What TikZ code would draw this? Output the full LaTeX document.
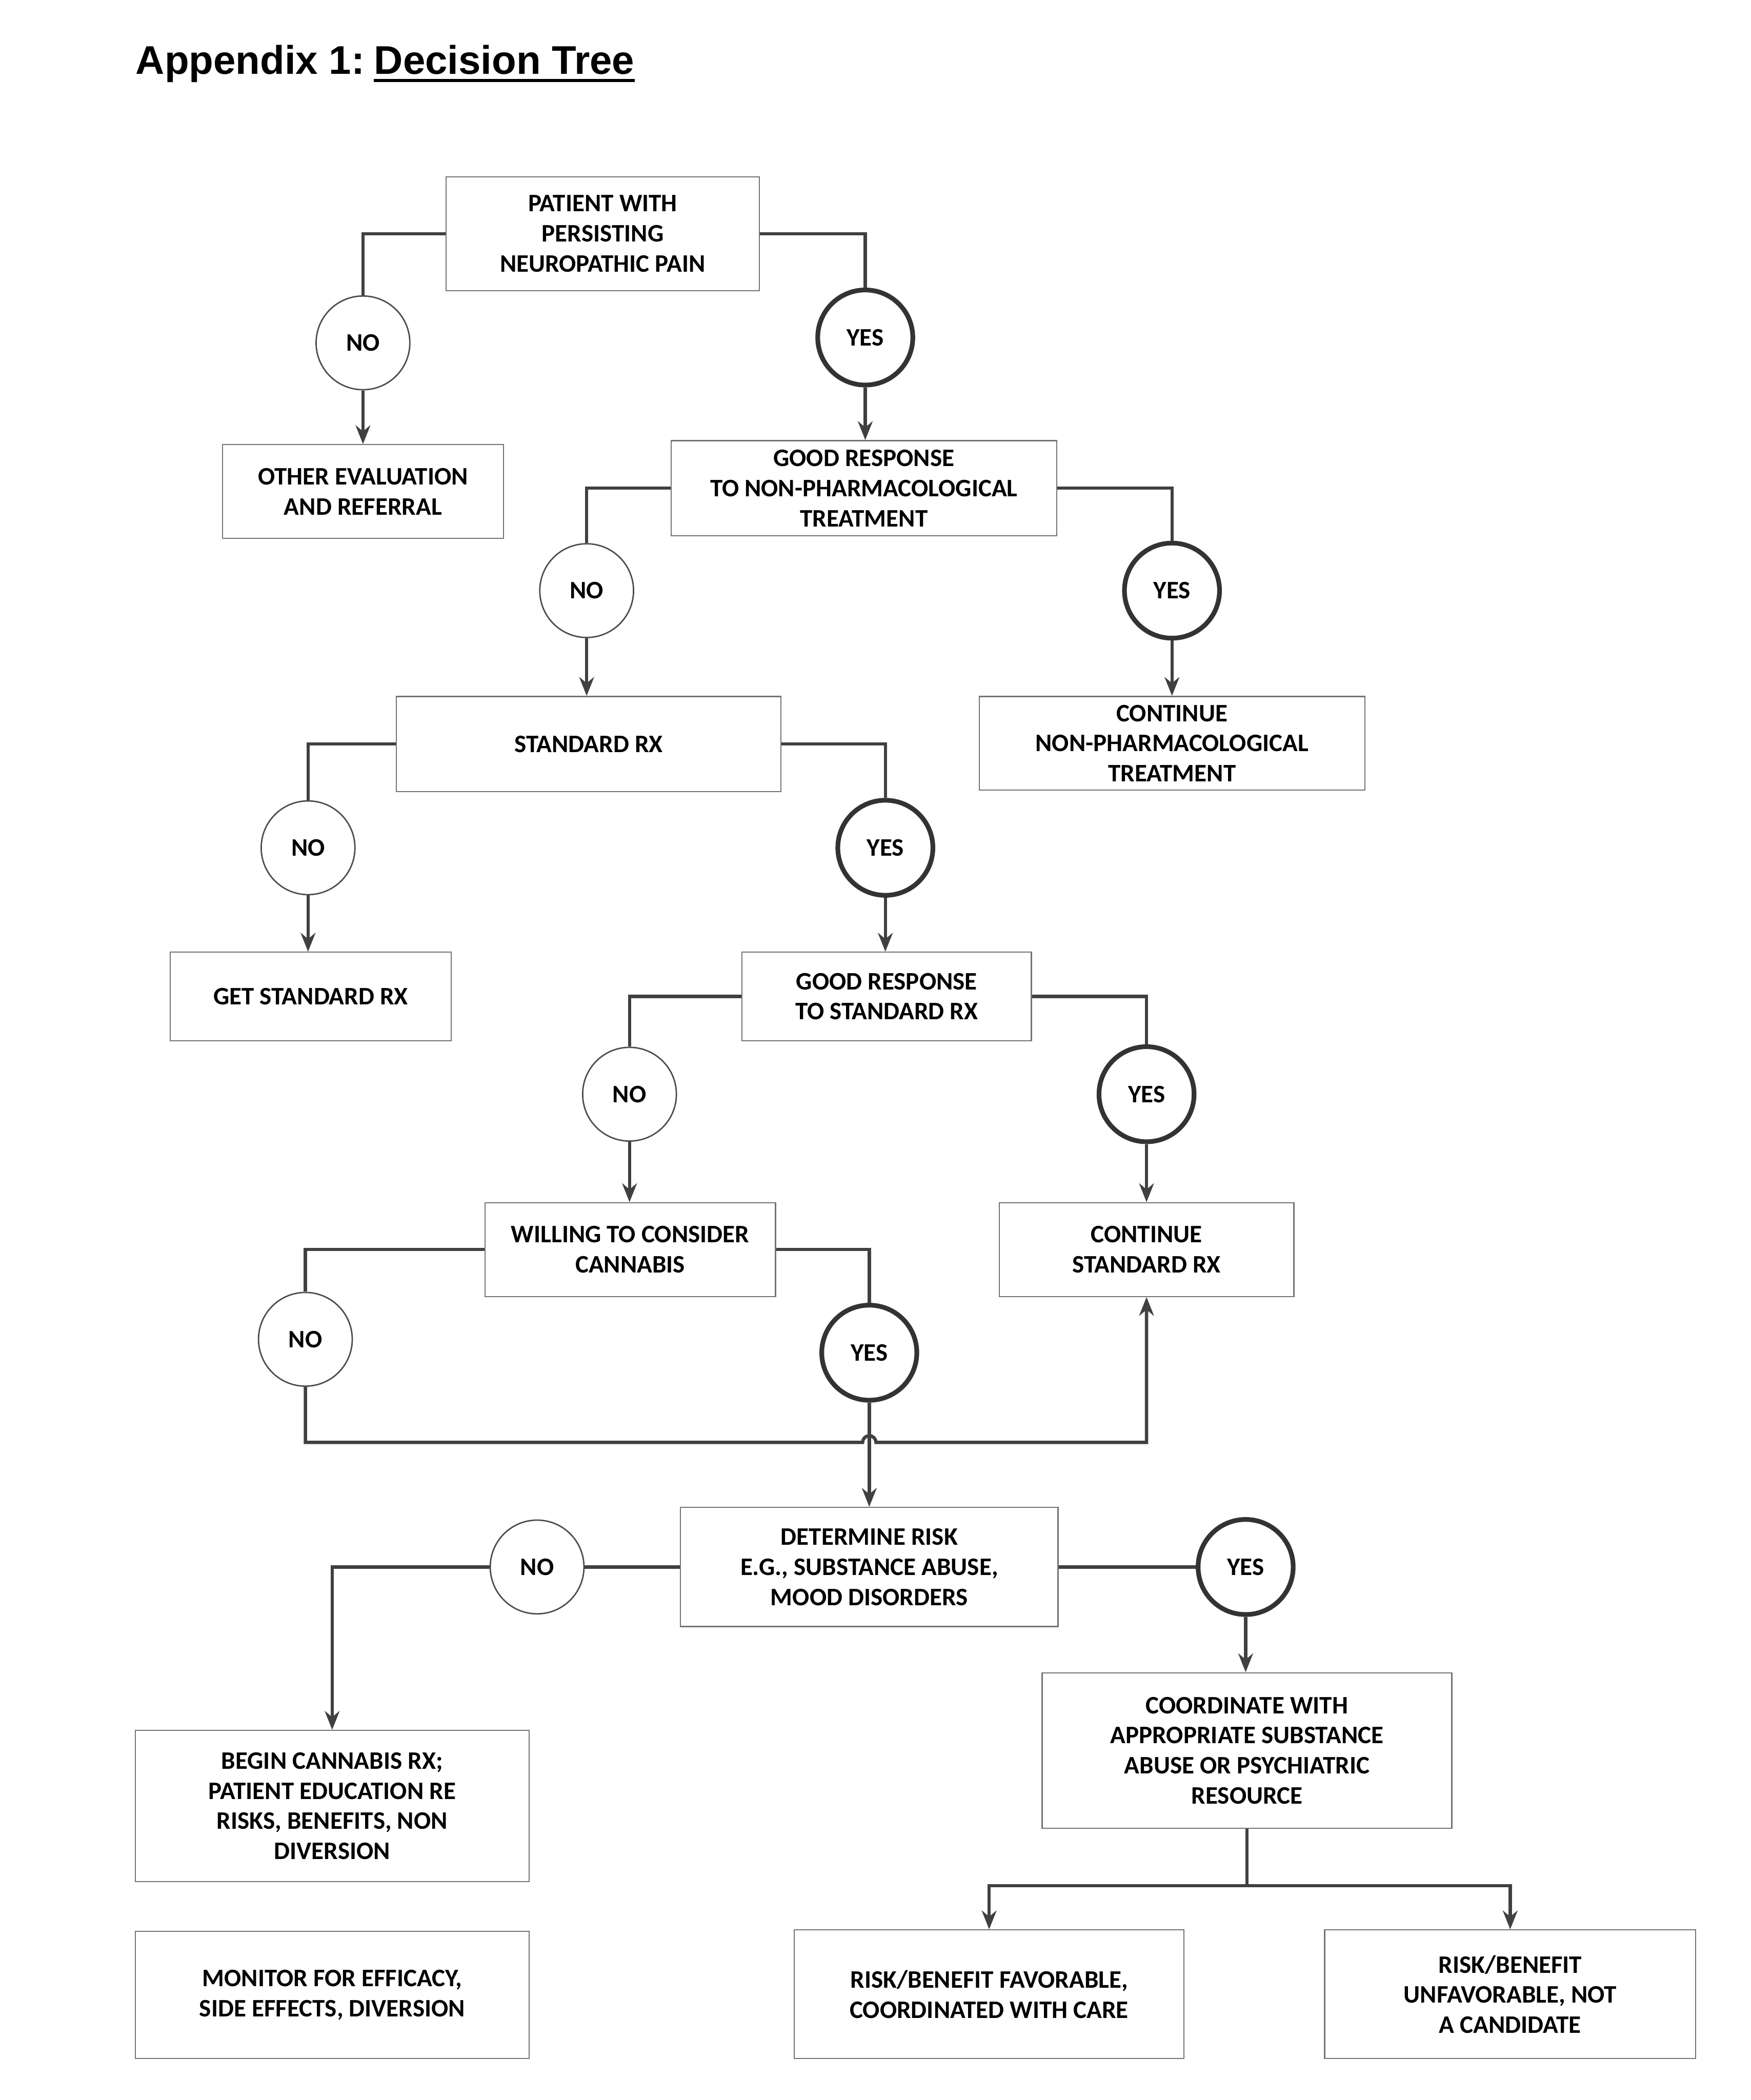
\documentclass[tikz,border=0pt]{standalone}
\usepackage{fontspec}
\setmainfont{Carlito}
\newfontfamily\titlefont{Liberation Sans}
\usetikzlibrary{arrows.meta}
\begin{document}
\begin{tikzpicture}[x=0.02cm,y=-0.02cm,
  txt/.style={font=\bfseries\fontsize{10.7}{12.8}\selectfont},
  box/.style={txt, draw=black!55, line width=0.5pt, align=center, inner sep=0pt},
  nocirc/.style={txt, circle, draw=black!70, line width=0.6pt, minimum size=1.4cm, inner sep=0pt},
  yescirc/.style={nocirc, draw=black!80, line width=2pt, minimum size=1.42cm},
  conn/.style={draw=black!75, line width=1.4pt},
  arr/.style={conn, -{Stealth[length=0.28cm, width=0.22cm]}},
]
\useasboundingbox (0,0) rectangle (1307,1568);
\fill[white] (0,0) rectangle (1307,1568);

% title
\node[anchor=base west, inner sep=0pt, font=\titlefont\bfseries\fontsize{17}{20}\selectfont] (t1) at (101,55.5) {Appendix 1:};
\node[anchor=base west, inner sep=0pt, font=\titlefont\bfseries\fontsize{17}{20}\selectfont] (t2) at (279,55.5) {Decision Tree};
\draw[line width=1.4pt] ([yshift=-0.09cm]t2.base west) -- ([yshift=-0.09cm]t2.base east);

% boxes
\node[box, minimum width=4.68cm, minimum height=1.70cm] (pat) at (450,174.5) {PATIENT WITH\\PERSISTING\\NEUROPATHIC PAIN};
\node[box, minimum width=4.20cm, minimum height=1.40cm] (other) at (271,367) {OTHER EVALUATION\\AND REFERRAL};
\node[box, minimum width=5.76cm, minimum height=1.42cm] (gnp) at (645,364.5) {GOOD RESPONSE\\TO NON-PHARMACOLOGICAL\\TREATMENT};
\node[box, minimum width=5.74cm, minimum height=1.42cm] (std) at (439.5,555.5) {STANDARD RX};
\node[box, minimum width=5.76cm, minimum height=1.40cm] (cnp) at (875,555) {CONTINUE\\NON-PHARMACOLOGICAL\\TREATMENT};
\node[box, minimum width=4.20cm, minimum height=1.32cm] (get) at (232,744) {GET STANDARD RX};
\node[box, minimum width=4.32cm, minimum height=1.32cm] (gstd) at (662,744) {GOOD RESPONSE\\TO STANDARD RX};
\node[box, minimum width=4.34cm, minimum height=1.40cm] (will) at (470.5,933) {WILLING TO CONSIDER\\CANNABIS};
\node[box, minimum width=4.40cm, minimum height=1.40cm] (cstd) at (856,933) {CONTINUE\\STANDARD RX};
\node[box, minimum width=5.64cm, minimum height=1.78cm] (risk) at (649,1170) {DETERMINE RISK\\E.G., SUBSTANCE ABUSE,\\MOOD DISORDERS};
\node[box, minimum width=5.88cm, minimum height=2.26cm] (begin) at (248,1348.5) {BEGIN CANNABIS RX;\\PATIENT EDUCATION RE\\RISKS, BENEFITS, NON\\DIVERSION};
\node[box, minimum width=5.88cm, minimum height=1.90cm] (mon) at (248,1489.5) {MONITOR FOR EFFICACY,\\SIDE EFFECTS, DIVERSION};
\node[box, minimum width=6.12cm, minimum height=2.32cm] (coord) at (931,1307) {COORDINATE WITH\\APPROPRIATE SUBSTANCE\\ABUSE OR PSYCHIATRIC\\RESOURCE};
\node[box, minimum width=5.82cm, minimum height=1.92cm] (fav) at (738.5,1489) {RISK/BENEFIT FAVORABLE,\\COORDINATED WITH CARE};
\node[box, minimum width=5.54cm, minimum height=1.92cm] (unfav) at (1127.5,1489) {RISK/BENEFIT\\UNFAVORABLE, NOT\\A CANDIDATE};

% circles
\node[nocirc] (n1) at (271,256) {NO};
\node[yescirc] (y1) at (646,252) {YES};
\node[nocirc] (n2) at (438,441) {NO};
\node[yescirc] (y2) at (875,441) {YES};
\node[nocirc] (n3) at (230,633) {NO};
\node[yescirc] (y3) at (661,633) {YES};
\node[nocirc] (n4) at (470,817) {NO};
\node[yescirc] (y4) at (856,817) {YES};
\node[nocirc] (n5) at (228,1000) {NO};
\node[yescirc] (y5) at (649,1010) {YES};
\node[nocirc] (n6) at (401,1170) {NO};
\node[yescirc] (y6) at (930,1170) {YES};

% connectors
\draw[conn] (pat.west) -| (n1.north);
\draw[conn] (pat.east) -| (y1.north);
\draw[arr] (n1.south) -- (n1.south |- other.north);
\draw[arr] (y1.south) -- (y1.south |- gnp.north);

\draw[conn] (gnp.west) -| (n2.north);
\draw[conn] (gnp.east) -| (y2.north);
\draw[arr] (n2.south) -- (n2.south |- std.north);
\draw[arr] (y2.south) -- (y2.south |- cnp.north);

\draw[conn] (std.west) -| (n3.north);
\draw[conn] (std.east) -| (y3.north);
\draw[arr] (n3.south) -- (n3.south |- get.north);
\draw[arr] (y3.south) -- (y3.south |- gstd.north);

\draw[conn] (gstd.west) -| (n4.north);
\draw[conn] (gstd.east) -| (y4.north);
\draw[arr] (n4.south) -- (n4.south |- will.north);
\draw[arr] (y4.south) -- (y4.south |- cstd.north);

\draw[conn] (will.west) -| (n5.north);
\draw[conn] (will.east) -| (y5.north);
\coordinate (jl) at (644,1077);
\draw[arr] (n5.south) |- (jl) arc[start angle=180, end angle=0, radius=0.1cm] -| (cstd.south);
\draw[arr] (y5.south) -- (y5.south |- risk.north);

\draw[conn] (risk.west) -- (n6.east);
\draw[arr] (n6.west) -| (begin.north);
\draw[conn] (risk.east) -- (y6.west);
\draw[arr] (y6.south) -- (y6.south |- coord.north);

\coordinate (split) at (931,1408);
\draw[conn] (coord.south) -- (split);
\draw[arr] (split) -| (fav.north);
\draw[arr] (split) -| (unfav.north);
\end{tikzpicture}
\end{document}
